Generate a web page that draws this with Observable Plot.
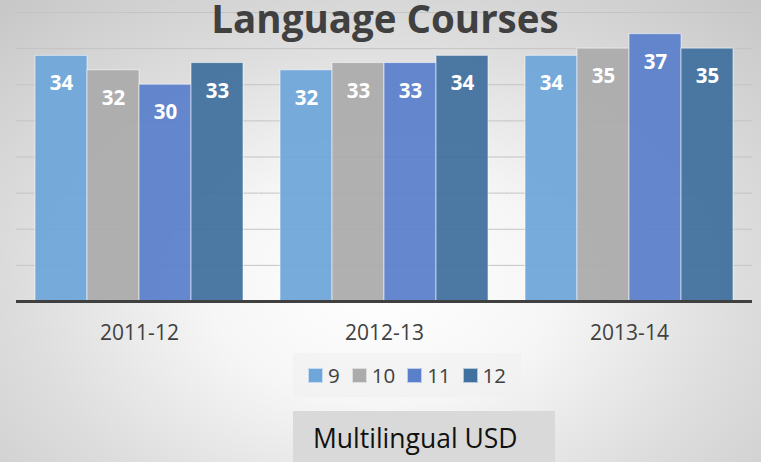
<!DOCTYPE html>
<html>
<head>
<meta charset="utf-8">
<script src="https://cdn.jsdelivr.net/npm/d3@7"></script>
<script src="https://cdn.jsdelivr.net/npm/@observablehq/plot@0.6"></script>
<style>
  html, body { margin: 0; padding: 0; }
  body {
    width: 761px; height: 462px; overflow: hidden; position: relative;
    font-family: "Open Sans", sans-serif;
    background: radial-gradient(ellipse 75% 85% at 50% 62%, #ffffff 0%, #f6f6f6 30%, #dedede 62%, #c6c6c6 100%);
  }
  #chart { position: absolute; left: 0; top: 0; }
  #title {
    position: absolute; left: 0; width: 770px; top: 0px; text-align: center;
    font-size: 38.5px; font-weight: 700; color: #404040; line-height: 36px;
  }
  #legend {
    position: absolute; left: 293px; top: 353px; width: 228px; height: 44px;
    background: rgba(240,240,240,0.6);
    display: flex; align-items: center; justify-content: center; gap: 12px;
    font-size: 20.5px; color: #404040;
  }
  .item { display: flex; align-items: center; gap: 5px; }
  .sw { width: 13px; height: 13px; border: 1px solid rgba(255,255,255,0.6); }
  #source {
    position: absolute; left: 293px; top: 411px; width: 262px; height: 60px;
    background: #d9d9d9; color: #111; font-size: 26.5px;
    box-sizing: border-box; padding-left: 20px; padding-top: 9px;
  }
</style>
</head>
<body>
<div id="chart"></div>
<div id="title">Language Courses</div>
<div id="legend"></div>
<div id="source">Multilingual USD</div>
<script>
const years = ["2011-12", "2012-13", "2013-14"];
const grades = ["9", "10", "11", "12"];
const grade9 = [34, 32, 34];
const grade10 = [32, 33, 35];
const grade11 = [30, 33, 37];
const grade12 = [33, 34, 35];
const gradeColors = ["#6fa6da", "#ababab", "#5a80cb", "#41719e"];
const yTicks = [5, 10, 15, 20, 25, 30, 35, 40];

const series = [grade9, grade10, grade11, grade12];
const data = [];
years.forEach((yr, i) => grades.forEach((g, j) => data.push({year: yr, grade: g, value: series[j][i]})));

const chart = Plot.plot({
  width: 761, height: 345,
  marginLeft: 16, marginRight: 9, marginTop: 12, marginBottom: 44,
  style: {background: "transparent", fontFamily: "Open Sans", fontSize: "21px", color: "#404040"},
  fx: {domain: years, paddingInner: 0.143, paddingOuter: 0.073, label: null, tickSize: 0, tickPadding: 24},
  x: {domain: grades, padding: 0, axis: null},
  y: {domain: [0, 40], axis: null},
  color: {domain: grades, range: gradeColors},
  marks: [
    Plot.ruleY(yTicks, {stroke: "#c4c4c4", strokeWidth: 1, insetLeft: -18, insetRight: -18}),
    Plot.barY(data, {fx: "year", x: "grade", y: "value", fill: "grade", fillOpacity: 0.94,
      stroke: "#ffffff", strokeOpacity: 0.55, strokeWidth: 1}),
    Plot.ruleY([0], {stroke: "#404040", strokeWidth: 3, insetLeft: -18, insetRight: -18}),
    Plot.text(data, {fx: "year", x: "grade", y: "value", text: d => String(d.value), dy: 28,
      fill: "#ffffff", fontSize: 20.5, fontWeight: 700})
  ]
});
document.getElementById("chart").appendChild(chart);

const legend = document.getElementById("legend");
grades.forEach((g, i) => {
  const it = document.createElement("div");
  it.className = "item";
  const sw = document.createElement("div");
  sw.className = "sw";
  sw.style.background = gradeColors[i];
  const t = document.createElement("span");
  t.textContent = g;
  it.appendChild(sw); it.appendChild(t);
  legend.appendChild(it);
});
</script>
</body>
</html>
